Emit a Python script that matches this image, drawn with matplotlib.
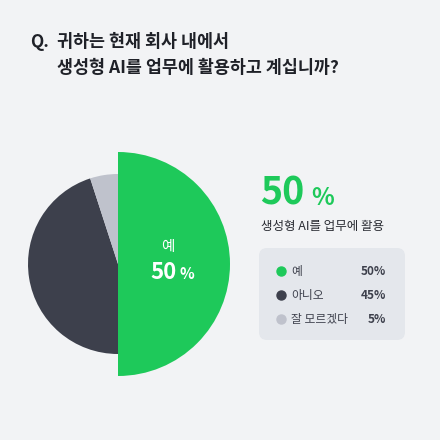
import matplotlib.pyplot as plt
from matplotlib.patches import FancyBboxPatch

plt.rcParams['font.family'] = ['Noto Sans CJK KR', 'DejaVu Sans']

labels = ['예', '아니오', '잘 모르겠다']
values = [50, 45, 5]
colors = ['#1ec95a', '#3d404c', '#bfc2cc']
bg = '#f2f3f5'

fig = plt.figure(figsize=(4.4, 4.4), dpi=100, facecolor=bg)
ax = fig.add_axes([0, 0, 1, 1])
ax.set_xlim(0, 440)
ax.set_ylim(0, 440)
ax.set_aspect('equal')
ax.axis('off')

def Y(p):
    return 440 - p

# big green wedge, smaller others
ax.pie(values, colors=[colors[0], 'none', 'none'], startangle=90, counterclock=False,
       center=(118, Y(264)), radius=112, frame=True)
ax.pie(values, colors=['none', colors[1], colors[2]], startangle=90, counterclock=False,
       center=(118, Y(264)), radius=90, frame=True)
ax.set_xlim(0, 440)
ax.set_ylim(0, 440)
ax.axis('off')

ax.text(30, Y(42), 'Q.', fontsize=12.5, fontweight='bold', color='#1f2128', va='center')
ax.text(57, Y(42), '귀하는 현재 회사 내에서', fontsize=12.5, fontweight='bold', color='#1f2128', va='center')
ax.text(57, Y(68), '생성형 AI를 업무에 활용하고 계십니까?', fontsize=12.5, fontweight='bold', color='#1f2128', va='center')

ax.text(168, Y(247), labels[0], fontsize=10.5, color='white', ha='center', va='center')
ax.text(150, Y(272), f'{values[0]}', fontsize=16, fontweight='bold', color='white', va='center')
ax.text(180, Y(274), '%', fontsize=11, fontweight='bold', color='white', va='center')

ax.text(260, Y(193), f'{values[0]}', fontsize=27, fontweight='bold', color=colors[0], va='center')
ax.text(311, Y(198), '%', fontsize=17, fontweight='bold', color=colors[0], va='center')
ax.text(261, Y(226), '생성형 AI를 업무에 활용', fontsize=9, color='#2a2c33', va='center')

ax.add_patch(FancyBboxPatch((259, Y(340)), 146, 92, boxstyle='round,pad=0,rounding_size=8',
                            fc='#e4e7ec', ec='none'))
for i, (lab, v, c) in enumerate(zip(labels, values, colors)):
    y = Y(271 + i * 24)
    ax.plot(281, y, 'o', ms=6.5, color=c)
    ax.text(291, y, lab, fontsize=8.5, color='#3d404c', va='center')
    ax.text(386, y, f'{v}%', fontsize=8.5, fontweight='bold', color='#3d404c', va='center', ha='right')

fig.savefig('out.png', dpi=100, facecolor=bg)
